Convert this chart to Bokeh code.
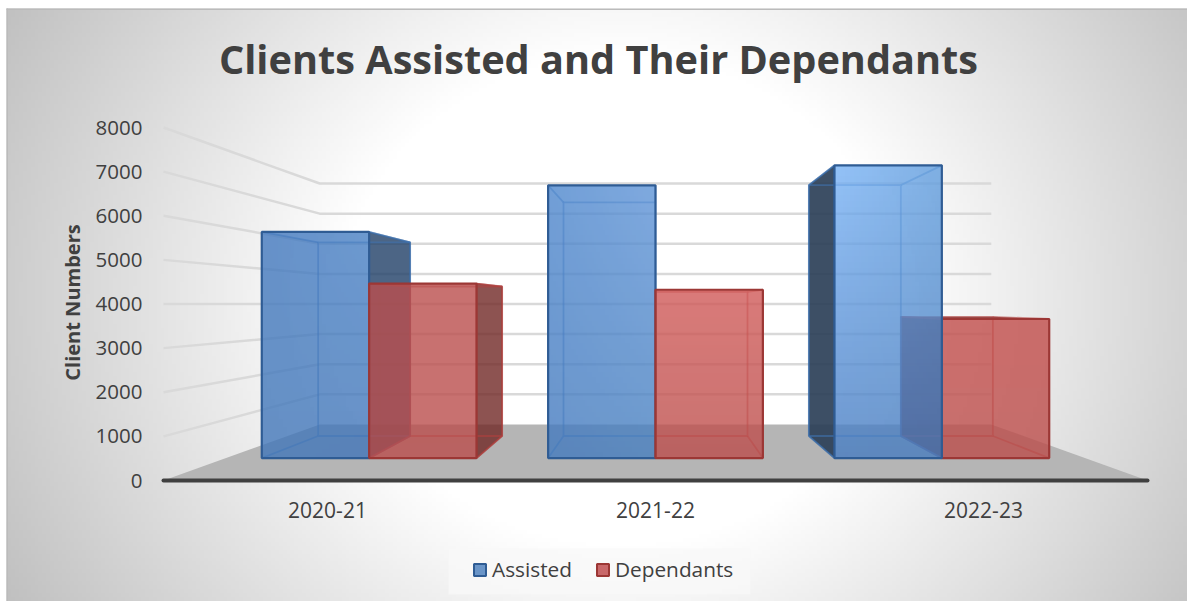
import numpy as np
from bokeh.core.properties import value
from bokeh.embed import file_html
from bokeh.models import ColumnDataSource, FixedTicker, Label, Legend, LegendItem
from bokeh.plotting import figure
from bokeh.resources import INLINE

# Chart data
categories = ["2020-21", "2021-22", "2022-23"]
assisted = [5870, 7080, 7600]
dependants = [4530, 4370, 3610]
value_ticks = [0, 1000, 2000, 3000, 4000, 5000, 6000, 7000, 8000]
chart_title = "Clients Assisted and Their Dependants"
value_title = "Client Numbers"

WIDTH, HEIGHT = 1187, 601
FONT = "Open Sans"

# One category is one x unit on the front edge of the floor.
PX_PER_CAT = 328.0
PX_PER_VALUE = 353.0 / 8000.0
X0_PX, Y0_PX = 163.0, 480.0

# Perspective: points shrink toward this vanishing point as depth scale drops.
VP_X, VP_V = 1.5, 4000.0
T_FRONT, T_BAR_FRONT, T_BAR_BACK, T_WALL = 1.0, 0.873, 0.748, 0.6825
BAR_WIDTH = 0.375


def proj(x, v, t):
    return VP_X + t * (x - VP_X), VP_V + t * (v - VP_V)


def poly(points):
    xs, ys = zip(*[proj(*pt) for pt in points])
    return list(xs), list(ys)


p = figure(
    width=WIDTH, height=HEIGHT, output_backend="svg", toolbar_location=None,
    x_range=(-X0_PX / PX_PER_CAT, (WIDTH - X0_PX) / PX_PER_CAT),
    y_range=((Y0_PX - HEIGHT) / PX_PER_VALUE, Y0_PX / PX_PER_VALUE),
    min_border=0, outline_line_color=None, background_fill_color="white",
    border_fill_color="white",
)
p.grid.visible = False


def px_x(px):
    return (px - X0_PX) / PX_PER_CAT


def px_v(py):
    return (Y0_PX - py) / PX_PER_VALUE


# Panel background: soft radial glow, grey in the corners.
gx, gy = np.meshgrid(np.linspace(6, 1187, 300), np.linspace(601, 8, 150))
dist = np.sqrt(((gx - 620) / 620) ** 2 + ((gy - 300) / 550) ** 2)
shade = np.clip(255 - 92 * np.clip(dist - 0.45, 0, None), 188, 255).astype(np.uint32)
bg_rgba = shade | shade << 8 | shade << 16 | np.uint32(255) << 24
p.image_rgba(image=[bg_rgba], x=px_x(6), y=px_v(601), dw=(1187 - 6) / PX_PER_CAT,
             dh=(601 - 8) / PX_PER_VALUE)

# Thin darker rim along the panel's top and left.
p.quad(left=[px_x(6), px_x(6)], right=[px_x(1187), px_x(7.5)],
       bottom=[px_v(9.5), px_v(601)], top=[px_v(8), px_v(8)],
       fill_color="#bbbbbb", line_color=None)

# Floor and wall gridlines.
n_cat = len(categories)
fx, fy = poly([(0, 0, T_FRONT), (n_cat, 0, T_FRONT), (n_cat, 0, T_WALL), (0, 0, T_WALL)])
p.patch(fx, fy, fill_color="#b5b5b5", line_color=None)

grid_x, grid_y = [], []
for tick in value_ticks[1:]:
    xs, ys = poly([(0, tick, T_FRONT), (0, tick, T_WALL), (n_cat, tick, T_WALL)])
    grid_x.append(xs)
    grid_y.append(ys)
p.multi_line(grid_x, grid_y, line_color="#d9d9d9", line_width=2.5)


def rgba_face(corners):
    """Bilinear colour image from corners: top-left, top-right, bottom-left, bottom-right."""
    tl, tr, bl, br = [np.array(c, dtype=float) for c in corners]
    u = np.linspace(0, 1, 48)[None, :, None]
    w = np.linspace(0, 1, 48)[:, None, None]  # first row is the bottom of the image
    rgb = (tl * (1 - u) + tr * u) * w + (bl * (1 - u) + br * u) * (1 - w)
    rgb = np.clip(rgb, 0, 255).astype(np.uint32)
    return (rgb[..., 0] | rgb[..., 1] << 8 | rgb[..., 2] << 16 | np.uint32(204) << 24)


BLUE_FACES = [
    [(66, 120, 190), (72, 128, 196), (66, 120, 185), (66, 118, 185)],
    [(78, 135, 205), (95, 148, 215), (68, 122, 190), (72, 128, 192)],
    [(120, 178, 245), (98, 158, 222), (72, 125, 195), (72, 125, 190)],
]
RED_FACES = [
    [(186, 78, 76), (186, 78, 76), (186, 78, 76), (186, 78, 76)],
    [(208, 90, 88), (208, 90, 88), (188, 78, 76), (188, 78, 76)],
    [(194, 76, 74), (194, 76, 74), (188, 78, 76), (188, 78, 76)],
]
BLUE = dict(edge="#2f5c94", inner="#3f74b5", side=["#1f3f66", None, "#2c4058"])
RED = dict(edge="#9c3735", inner="#b5403e", side=["#702826", None, "#702826"])


def draw_bar(cat, x0, x1, val, faces, style, name):
    # Inner frame: back face and depth edges.
    inner_lines = [
        [(x0, 0, T_BAR_BACK), (x1, 0, T_BAR_BACK), (x1, val, T_BAR_BACK), (x0, val, T_BAR_BACK), (x0, 0, T_BAR_BACK)],
        [(x0, 0, T_BAR_FRONT), (x0, 0, T_BAR_BACK)],
        [(x1, 0, T_BAR_FRONT), (x1, 0, T_BAR_BACK)],
        [(x0, val, T_BAR_FRONT), (x0, val, T_BAR_BACK)],
        [(x1, val, T_BAR_FRONT), (x1, val, T_BAR_BACK)],
    ]
    # The side turned toward the vanishing point is seen from outside.
    side_x = x1 if x1 < VP_X else (x0 if x0 > VP_X else None)
    if side_x is not None:
        sx, sy = poly([(side_x, 0, T_BAR_FRONT), (side_x, 0, T_BAR_BACK),
                       (side_x, val, T_BAR_BACK), (side_x, val, T_BAR_FRONT)])
        p.patch(sx, sy, fill_color=style["side"][cat], fill_alpha=0.92 if cat == 2 else 0.8,
                line_color=style["edge"], line_width=1.5, line_alpha=0.7)
    if val < VP_V:
        tx, ty = poly([(x0, val, T_BAR_FRONT), (x1, val, T_BAR_FRONT),
                       (x1, val, T_BAR_BACK), (x0, val, T_BAR_BACK)])
        p.patch(tx, ty, fill_color=style["side"][cat], fill_alpha=0.8, line_color=None)
    ix, iy = [], []
    for line in inner_lines:
        a, b = poly(line)
        ix.append(a)
        iy.append(b)
    p.multi_line(ix, iy, line_color=style["inner"], line_width=1.8, line_alpha=0.55)
    # Front face: shaded image inside an outlined quad.
    fx0, f_base = proj(x0, 0, T_BAR_FRONT)
    fx1, f_top = proj(x1, val, T_BAR_FRONT)
    p.image_rgba(image=[rgba_face(faces)], x=fx0, y=f_base, dw=fx1 - fx0, dh=f_top - f_base)
    src = ColumnDataSource(dict(left=[fx0], right=[fx1], bottom=[f_base], top=[f_top],
                                category=[categories[cat]], value=[val]))
    return p.quad(left="left", right="right", bottom="bottom", top="top", source=src,
                  fill_color=style["edge"], fill_alpha=0.0, line_color=style["edge"],
                  line_width=2.2, name=name)


for i in range(n_cat):
    centre = i + 0.5
    blue_args = (i, centre - BAR_WIDTH, centre, assisted[i], BLUE_FACES[i], BLUE, "Assisted")
    red_args = (i, centre, centre + BAR_WIDTH, dependants[i], RED_FACES[i], RED, "Dependants")
    # Paint whichever bar lies farther from the vanishing point's side first.
    if centre > VP_X:
        draw_bar(*red_args)
        draw_bar(*blue_args)
    else:
        draw_bar(*blue_args)
        draw_bar(*red_args)

# Floor front edge.
edge_x, edge_y = poly([(0, 0, T_FRONT), (n_cat, 0, T_FRONT)])
p.line(edge_x, edge_y, line_color="#404040", line_width=4, line_cap="round")

# Axes pinned inside the full-page frame.
p.yaxis.fixed_location = px_x(152)
p.yaxis.ticker = FixedTicker(ticks=value_ticks)
p.yaxis.axis_line_color = None
p.yaxis.major_tick_line_color = None
p.yaxis.minor_tick_line_color = None
p.yaxis.major_label_text_font = FONT
p.yaxis.major_label_text_font_size = "20.5px"
p.yaxis.major_label_text_color = "#404040"
p.yaxis.major_label_standoff = 4
p.yaxis.major_label_overrides = {t: str(t) for t in value_ticks}

cat_ticks = [i + 0.5 for i in range(n_cat)]
p.xaxis.fixed_location = px_v(490)
p.xaxis.ticker = FixedTicker(ticks=cat_ticks)
p.xaxis.axis_line_color = None
p.xaxis.major_tick_line_color = None
p.xaxis.minor_tick_line_color = None
p.xaxis.major_label_text_font = FONT
p.xaxis.major_label_text_font_size = "21px"
p.xaxis.major_label_text_color = "#404040"
p.xaxis.major_label_overrides = dict(zip(cat_ticks, categories))

p.add_layout(Label(x=598, y=HEIGHT - 58, x_units="screen", y_units="screen", text=chart_title,
                   text_font=FONT, text_font_size="39.7px", text_font_style="bold",
                   text_color="#404040", text_align="center", text_baseline="middle"))
p.add_layout(Label(x=72, y=HEIGHT - 302, x_units="screen", y_units="screen", text=value_title,
                   text_font=FONT, text_font_size="20px", text_font_style="bold",
                   text_color="#404040", text_align="center", text_baseline="middle",
                   angle=np.pi / 2))

# Pale plate behind the legend.
p.quad(left=[px_x(448)], right=[px_x(750)], bottom=[px_v(594)], top=[px_v(548)],
       fill_color="#f8f8f8", fill_alpha=0.75, line_color=None)

# Legend swatches use off-canvas keys so they stay flat-coloured.
key_a = p.quad(left=[-9], right=[-9], bottom=[-9], top=[-9], fill_color="#6a95c8",
               line_color=BLUE["edge"], line_width=2)
key_d = p.quad(left=[-9], right=[-9], bottom=[-9], top=[-9], fill_color="#c9686a",
               line_color=RED["edge"], line_width=2)
legend = Legend(
    items=[LegendItem(label=value("Assisted"), renderers=[key_a]),
           LegendItem(label=value("Dependants"), renderers=[key_d])],
    orientation="horizontal", location=(472, HEIGHT - 583), padding=0, margin=0, spacing=23,
    glyph_width=15, glyph_height=15, label_standoff=5,
    background_fill_alpha=0.0, border_line_color=None,
    label_text_font=FONT, label_text_font_size="20.8px", label_text_color="#404040",
)
p.add_layout(legend, "center")

open("out.html", "w").write(file_html(p, INLINE))
